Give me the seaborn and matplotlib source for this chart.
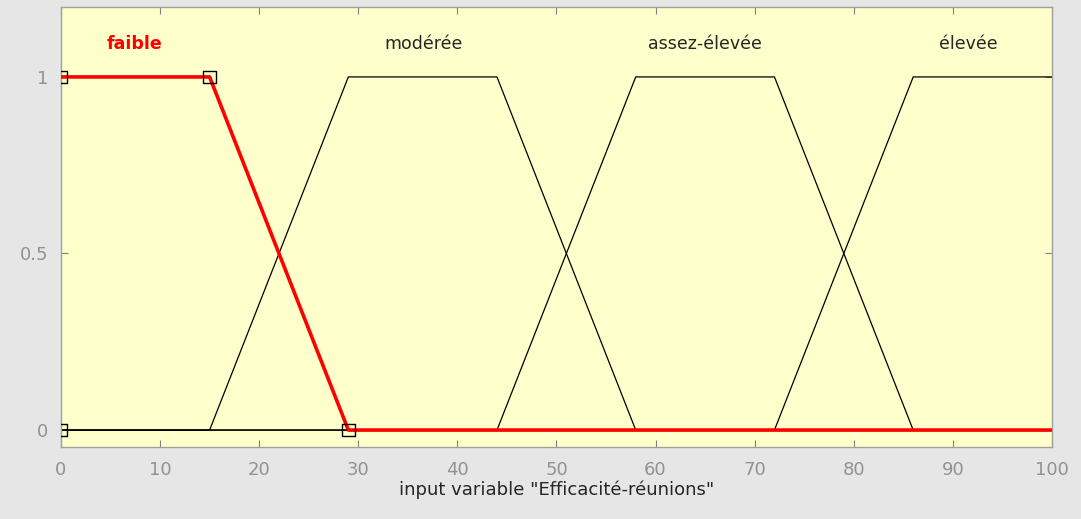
import matplotlib
matplotlib.use("Agg")
import matplotlib.pyplot as plt
import seaborn as sns
import pandas as pd

# Membership functions (breakpoints) for input variable "Efficacité-réunions"
faible_x = [0, 15, 29, 100]
faible_y = [1, 1, 0, 0]
moderee_x = [0, 15, 29, 44, 58, 100]
moderee_y = [0, 0, 1, 1, 0, 0]
assez_x = [0, 44, 58, 72, 86, 100]
assez_y = [0, 0, 1, 1, 0, 0]
elevee_x = [0, 72, 86, 100]
elevee_y = [0, 0, 1, 1]

mf_names = ["faible", "modérée", "assez-élevée", "élevée"]
label_x = [7.4, 36.6, 65.0, 91.6]

# Vertex markers of the selected MF (faible)
marker_x = [0, 15, 29, 0]
marker_y = [1, 1, 0, 0]

x_ticks = [0, 10, 20, 30, 40, 50, 60, 70, 80, 90, 100]
y_ticks = [0, 0.5, 1]
y_tick_labels = ["0", "0.5", "1"]

sns.set_theme(style="white")
plt.rcParams["font.family"] = ["DejaVu Sans"]

fig = plt.figure(figsize=(10.81, 5.19), dpi=100, facecolor="#e6e6e6")
ax = fig.add_axes([0.0564, 0.1387, 0.9167, 0.8478])
ax.set_facecolor("#ffffcc")

curves = [(moderee_x, moderee_y), (assez_x, assez_y), (elevee_x, elevee_y)]
for cx, cy in curves:
    df = pd.DataFrame({"x": cx, "y": cy})
    sns.lineplot(data=df, x="x", y="y", sort=False, color="black", linewidth=0.9, ax=ax)

dff = pd.DataFrame({"x": faible_x, "y": faible_y})
sns.lineplot(data=dff, x="x", y="y", sort=False, color="#ff0000", linewidth=2.6, ax=ax, zorder=4)

dfm = pd.DataFrame({"x": marker_x, "y": marker_y})
sns.scatterplot(data=dfm, x="x", y="y", marker="s", s=80, facecolor="none",
                edgecolor="black", linewidth=1.0, ax=ax, zorder=5)

for name, lx in zip(mf_names, label_x):
    if name == "faible":
        ax.text(lx, 1.093, name, color="#ff0000", fontweight="bold", fontsize=12.5,
                ha="center", va="center")
    else:
        ax.text(lx, 1.093, name, color="#262626", fontsize=12.5, ha="center", va="center")

ax.set_xlim(0, 100)
ax.set_ylim(-0.048, 1.198)
ax.set_xticks(x_ticks)
ax.set_xticklabels([str(t) for t in x_ticks])
ax.set_yticks(y_ticks)
ax.set_yticklabels(y_tick_labels)
ax.tick_params(axis="both", direction="in", length=5, width=0.8, color="#808080",
               labelcolor="#929292", labelsize=13, top=True, right=True,
               bottom=True, left=True)
ax.tick_params(axis="x", pad=10)
ax.tick_params(axis="y", pad=9)
ax.set_xlabel('input variable "Efficacité-réunions"', fontsize=13, color="#262626", labelpad=1)
ax.set_ylabel("")
for s in ax.spines.values():
    s.set_color("#a0a0a0")
    s.set_linewidth(1.0)
    s.set_visible(True)

fig.savefig("out.png", dpi=100, facecolor=fig.get_facecolor())
